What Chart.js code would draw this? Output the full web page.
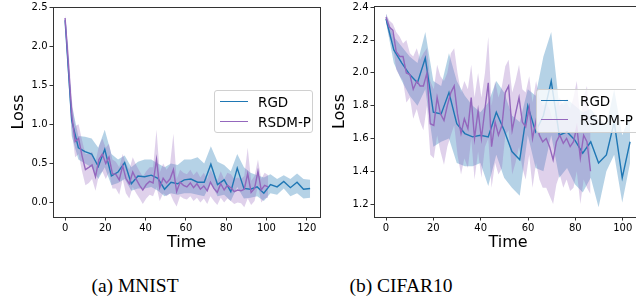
<!DOCTYPE html>
<html>
<head>
<meta charset="utf-8">
<script src="https://cdn.jsdelivr.net/npm/chart.js@4.4.1/dist/chart.umd.min.js"></script>
<style>
  body { margin: 0; width: 636px; height: 303px; overflow: hidden; background: #fff; position: relative; }
  canvas { position: absolute; top: 0; }
  .legend { position: absolute; border: 1px solid #d0d0d0; border-radius: 3px; background: rgba(255,255,255,0.8);
            font-family: "DejaVu Sans", sans-serif; font-size: 13.5px; color: #000; box-sizing: border-box; }
  .legend .sw { position: absolute; height: 0; border-top: 1.5px solid; }
  .legend .lb { position: absolute; line-height: 16px; white-space: nowrap; }
  .cap { position: absolute; font-family: "Liberation Serif", "Times New Roman", serif; font-size: 19.5px;
         line-height: 20px; top: 276px; white-space: nowrap; transform: translateX(-50%); }
</style>
</head>
<body>
<canvas id="mnist" width="326" height="255" style="left:0"></canvas>
<canvas id="cifar" width="334" height="255" style="left:318px"></canvas>

<div class="legend" style="left:214px; top:90px; width:99px; height:43px">
  <div class="sw" style="left:5px; top:10px; width:28px; border-color:#1f77b4"></div>
  <div class="lb" style="left:43px; top:3px">RGD</div>
  <div class="sw" style="left:5px; top:30px; width:28px; border-color:#9467bd"></div>
  <div class="lb" style="left:43px; top:23px">RSDM-P</div>
</div>
<div class="legend" style="left:536px; top:89px; width:120px; height:44px">
  <div class="sw" style="left:4px; top:10px; width:27px; border-color:#1f77b4"></div>
  <div class="lb" style="left:43px; top:3px">RGD</div>
  <div class="sw" style="left:4px; top:29px; width:27px; border-color:#9467bd"></div>
  <div class="lb" style="left:43px; top:22px">RSDM-P</div>
</div>

<div class="cap" style="left:135px">(a) MNIST</div>
<div class="cap" style="left:401px">(b) CIFAR10</div>

<script>
// ---- MNIST ----
const mnistRgdTime = [0, 3.3, 6.6, 9.9, 13.2, 16.5, 19.7, 23.0, 26.3, 29.6, 32.9, 36.2, 39.5, 42.8, 46.1, 49.4, 52.6, 55.9, 59.2,
  62.5, 65.8, 69.1, 72.4, 75.7, 79.0, 82.3, 85.5, 88.8, 92.1, 95.4, 98.7, 102.0, 105.3, 108.6, 111.9, 115.2, 118.4, 121.7];
const mnistRgd = [2.33, 1.05, 0.70, 0.65, 0.62, 0.46, 0.68, 0.34, 0.39, 0.51, 0.24, 0.34, 0.33, 0.35, 0.31, 0.17, 0.26, 0.24, 0.29,
  0.30, 0.26, 0.26, 0.49, 0.23, 0.29, 0.14, 0.44, 0.18, 0.17, 0.20, 0.12, 0.23, 0.20, 0.27, 0.19, 0.26, 0.17, 0.18];
const mnistRgdHi = [2.38, 1.25, 0.85, 0.84, 0.82, 0.70, 0.93, 0.62, 0.55, 0.60, 0.45, 0.52, 0.55, 0.55, 0.50, 0.45, 0.50, 0.48, 0.55,
  0.55, 0.58, 0.50, 0.72, 0.52, 0.48, 0.40, 0.62, 0.45, 0.38, 0.35, 0.32, 0.36, 0.30, 0.35, 0.30, 0.37, 0.30, 0.29];
const mnistRgdLo = [2.28, 0.85, 0.55, 0.50, 0.45, 0.30, 0.45, 0.22, 0.25, 0.30, 0.15, 0.18, 0.18, 0.20, 0.15, 0.08, 0.12, 0.10, 0.12,
  0.12, 0.10, 0.08, 0.25, 0.08, 0.10, 0.02, 0.20, 0.05, 0.06, 0.08, 0.02, 0.12, 0.10, 0.18, 0.08, 0.12, 0.05, 0.06];

const mnistRsdmTime = [0, 1.7, 3.4, 5.0, 6.7, 8.4, 10.1, 11.8, 13.4, 15.1, 16.8, 18.5, 20.2, 21.8, 23.5, 25.2, 26.9, 28.6, 30.2, 31.9,
  33.6, 35.3, 37.0, 38.6, 40.3, 42.0, 43.7, 45.4, 47.0, 48.7, 50.4, 52.1, 53.8, 55.4, 57.1, 58.8, 60.5, 62.2, 63.8, 65.5,
  67.2, 68.9, 70.6, 72.2, 73.9, 75.6, 77.3, 79.0, 80.6, 82.3, 84.0, 85.7, 87.4, 89.0, 90.7, 92.4, 94.1, 95.8, 97.4, 99.1, 100.8];
const mnistRsdm = [2.36, 1.75, 1.10, 0.78, 0.82, 0.60, 0.42, 0.45, 0.48, 0.33, 0.55, 0.62, 0.50, 0.58, 0.37, 0.36, 0.29, 0.47, 0.31, 0.24,
  0.39, 0.30, 0.22, 0.16, 0.23, 0.27, 0.25, 0.55, 0.19, 0.31, 0.25, 0.30, 0.42, 0.14, 0.26, 0.22, 0.20, 0.25, 0.19, 0.24,
  0.17, 0.21, 0.15, 0.26, 0.18, 0.13, 0.24, 0.16, 0.22, 0.19, 0.14, 0.16, 0.15, 0.17, 0.37, 0.13, 0.18, 0.40, 0.16, 0.22, 0.20];
const mnistRsdmHi = [2.40, 1.95, 1.30, 0.98, 1.00, 0.80, 0.62, 0.62, 0.65, 0.52, 0.72, 0.82, 0.70, 0.75, 0.55, 0.52, 0.45, 0.62, 0.50, 0.42,
  0.58, 0.48, 0.40, 0.33, 0.40, 0.45, 0.45, 0.93, 0.38, 0.50, 0.42, 0.48, 0.88, 0.30, 0.42, 0.38, 0.36, 0.42, 0.35, 0.40,
  0.32, 0.38, 0.30, 0.42, 0.34, 0.28, 0.40, 0.30, 0.38, 0.36, 0.30, 0.32, 0.30, 0.34, 0.70, 0.28, 0.34, 0.55, 0.30, 0.38, 0.35];
const mnistRsdmLo = [2.30, 1.55, 0.90, 0.58, 0.62, 0.40, 0.22, 0.25, 0.30, 0.15, 0.35, 0.40, 0.30, 0.38, 0.18, 0.18, 0.10, 0.30, 0.12, 0.05,
  0.20, 0.12, 0.05, -0.02, 0.05, 0.10, 0.08, 0.20, 0.02, 0.12, 0.08, 0.12, 0.02, -0.05, 0.08, 0.05, 0.04, 0.08, 0.02, 0.06,
  0.00, 0.05, -0.02, 0.08, 0.02, -0.03, 0.06, 0.00, 0.05, 0.02, -0.02, 0.00, -0.01, -0.06, 0.05, -0.03, 0.02, 0.22, 0.00, 0.05, 0.06];

// ---- CIFAR10 ----
const cifarRgdTime = [0, 3.3, 6.7, 10.0, 13.3, 16.6, 20.0, 23.3, 26.6, 29.9, 33.3, 36.6, 39.9, 43.2, 46.6, 49.9,
  53.2, 56.5, 59.9, 63.2, 66.5, 69.8, 73.2, 76.5, 79.8, 83.1, 86.5, 89.8, 93.1, 96.4, 99.8, 103.1];
const cifarRgd = [2.33, 2.14, 2.06, 1.99, 1.94, 2.09, 1.76, 1.75, 1.88, 1.69, 1.63, 1.61, 1.62, 1.61, 1.76, 1.65,
  1.52, 1.47, 1.80, 1.64, 1.74, 1.95, 1.62, 1.64, 1.59, 1.51, 1.58, 1.45, 1.50, 1.70, 1.36, 1.58];
const cifarRgdHi = [2.36, 2.22, 2.16, 2.10, 2.06, 2.25, 1.95, 1.92, 2.12, 1.95, 1.86, 1.80, 1.76, 1.82, 1.95, 1.88,
  1.74, 1.70, 1.90, 1.86, 2.10, 2.25, 1.80, 1.84, 1.80, 1.76, 1.78, 1.72, 1.68, 1.90, 1.62, 1.75];
const cifarRgdLo = [2.31, 2.06, 1.95, 1.86, 1.80, 1.90, 1.55, 1.58, 1.60, 1.45, 1.43, 1.43, 1.45, 1.31, 1.50, 1.36,
  1.30, 1.25, 1.62, 1.42, 1.40, 1.62, 1.36, 1.42, 1.32, 1.27, 1.36, 1.18, 1.40, 1.50, 1.21, 1.45];

const cifarRsdmTime = [0, 1.4, 2.9, 4.3, 5.8, 7.2, 8.6, 10.1, 11.5, 13.0, 14.4, 15.8, 17.3, 18.7, 20.2, 21.6, 23.0, 24.5, 25.9, 27.4,
  28.8, 30.2, 31.7, 33.1, 34.6, 36.0, 37.4, 38.9, 40.3, 41.8, 43.2, 44.6, 46.1, 47.5, 49.0, 50.4, 51.8, 53.3, 54.7, 56.2,
  57.6, 59.0, 60.5, 61.9, 63.4, 64.8, 66.2, 67.7, 69.1, 70.6, 72.0, 73.4, 74.9, 76.3, 77.8, 79.2, 80.6, 82.1, 83.5, 84.9, 86.4];
const cifarRsdm = [2.34, 2.28, 2.26, 2.13, 2.10, 2.10, 2.00, 1.99, 1.90, 1.95, 1.92, 1.92, 2.00, 1.69, 1.68, 1.85, 1.75, 1.71, 1.80, 1.88,
  1.92, 1.75, 1.63, 1.72, 1.66, 1.85, 1.60, 1.77, 1.60, 1.78, 1.94, 1.55, 1.70, 1.62, 1.68, 1.88, 1.92, 1.65, 1.75, 1.85,
  1.70, 1.67, 1.79, 1.60, 1.71, 1.62, 1.58, 1.60, 1.55, 1.47, 1.58, 1.62, 1.57, 1.60, 1.55, 1.58, 1.67, 1.48, 1.62, 1.58, 1.40];
const cifarRsdmHi = [2.36, 2.32, 2.30, 2.25, 2.22, 2.18, 2.20, 2.12, 2.10, 2.15, 2.08, 2.12, 2.15, 1.95, 1.90, 2.05, 1.98, 1.95, 2.00, 2.12,
  2.15, 2.00, 1.88, 1.95, 1.90, 2.05, 1.85, 2.00, 1.85, 2.00, 2.22, 1.80, 1.95, 1.85, 1.92, 2.04, 2.08, 1.88, 1.95, 2.05,
  1.90, 1.88, 1.98, 1.82, 1.95, 1.85, 1.80, 1.82, 1.78, 1.70, 1.80, 1.85, 1.80, 1.82, 1.78, 1.85, 1.95, 1.72, 1.85, 1.92, 1.65];
const cifarRsdmLo = [2.31, 2.22, 2.18, 2.02, 1.98, 1.95, 1.82, 1.85, 1.72, 1.78, 1.70, 1.65, 1.80, 1.50, 1.48, 1.62, 1.52, 1.44, 1.55, 1.62,
  1.68, 1.50, 1.38, 1.48, 1.42, 1.60, 1.35, 1.52, 1.36, 1.55, 1.60, 1.30, 1.45, 1.38, 1.42, 1.62, 1.65, 1.38, 1.45, 1.55,
  1.42, 1.35, 1.50, 1.30, 1.45, 1.35, 1.30, 1.30, 1.25, 1.20, 1.32, 1.38, 1.30, 1.35, 1.28, 1.30, 1.40, 1.20, 1.35, 1.30, 1.26];

// tick labels
const mnistXTicks = [0, 20, 40, 60, 80, 100, 120];
const mnistYTicks = [0.0, 0.5, 1.0, 1.5, 2.0, 2.5];
const cifarXTicks = [0, 20, 40, 60, 80, 100];
const cifarYTicks = [1.2, 1.4, 1.6, 1.8, 2.0, 2.2, 2.4];

const BLUE = '#1f77b4', PURPLE = '#9467bd';
const BLUE_BAND = 'rgba(31,119,180,0.33)', PURPLE_BAND = 'rgba(148,103,189,0.3)';

const pts = (xs, ys) => xs.map((x, i) => ({ x: x, y: ys[i] }));

// draws the full axes box (matplotlib style spines)
const boxPlugin = {
  id: 'box',
  afterDraw(chart) {
    const a = chart.chartArea, ctx = chart.ctx;
    ctx.save();
    ctx.strokeStyle = '#333';
    ctx.lineWidth = 1;
    ctx.strokeRect(Math.round(a.left) + 0.5, Math.round(a.top) + 0.5,
      Math.round(a.right - a.left), Math.round(a.bottom - a.top));
    ctx.restore();
  }
};

function makeChart(id, o) {
  const band = (t, hi, lo, col, order) => [
    { data: pts(t, hi), borderWidth: 0, pointRadius: 0, backgroundColor: col, fill: '+1', order: order },
    { data: pts(t, lo), borderWidth: 0, pointRadius: 0, fill: false, order: order }
  ];
  return new Chart(document.getElementById(id), {
    type: 'line',
    data: {
      datasets: [
        ...band(o.t1, o.hi1, o.lo1, BLUE_BAND, 3),
        ...band(o.t2, o.hi2, o.lo2, PURPLE_BAND, 2),
        { label: 'RGD', data: pts(o.t1, o.y1), borderColor: BLUE, borderWidth: 1.4, pointRadius: 0, fill: false, tension: 0, order: 1 },
        { label: 'RSDM-P', data: pts(o.t2, o.y2), borderColor: PURPLE, borderWidth: 1.4, pointRadius: 0, fill: false, tension: 0, order: 0 }
      ]
    },
    options: {
      responsive: false,
      animation: false,
      devicePixelRatio: 1,
      layout: { padding: { top: o.padTop, right: o.padRight, left: 0, bottom: 0 } },
      plugins: { legend: { display: false }, tooltip: { enabled: false } },
      scales: {
        x: {
          type: 'linear', min: o.xmin, max: o.xmax,
          grid: { display: true, drawOnChartArea: false, drawTicks: true, tickLength: 3.5, tickColor: '#000', tickWidth: 0.8 },
          border: { display: false },
          ticks: { autoSkip: false, maxRotation: 0, padding: 2, color: '#000', font: { family: 'DejaVu Sans', size: 10 } },
          title: { display: true, text: 'Time', color: '#000', font: { family: 'DejaVu Sans', size: 16 }, padding: { top: 0, bottom: 3 } },
          afterBuildTicks: s => { s.ticks = o.xticks.map(v => ({ value: v })); },
          afterFit: s => { s.height = o.xHeight; s.paddingLeft = 0; s.paddingRight = 0; }
        },
        y: {
          type: 'linear', min: o.ymin, max: o.ymax,
          grid: { display: true, drawOnChartArea: false, drawTicks: true, tickLength: 3.5, tickColor: '#000', tickWidth: 0.8 },
          border: { display: false },
          ticks: { padding: 2, color: '#000', font: { family: 'DejaVu Sans', size: 10 }, callback: v => v.toFixed(1) },
          title: { display: true, text: 'Loss', color: '#000', font: { family: 'DejaVu Sans', size: 16 }, padding: { top: o.yTitlePad, bottom: 0 } },
          afterBuildTicks: s => { s.ticks = o.yticks.map(v => ({ value: v })); },
          afterFit: s => { s.width = o.yWidth; s.paddingTop = 0; s.paddingBottom = 0; }
        }
      }
    },
    plugins: [boxPlugin]
  });
}

makeChart('mnist', {
  t1: mnistRgdTime, y1: mnistRgd, hi1: mnistRgdHi, lo1: mnistRgdLo,
  t2: mnistRsdmTime, y2: mnistRsdm, hi2: mnistRsdmHi, lo2: mnistRsdmLo,
  xticks: mnistXTicks, yticks: mnistYTicks,
  xmin: -6, xmax: 126.6, ymin: -0.185, ymax: 2.5,
  padTop: 7, padRight: 6, yWidth: 53, xHeight: 38, yTitlePad: 9
});

makeChart('cifar', {
  t1: cifarRgdTime, y1: cifarRgd, hi1: cifarRgdHi, lo1: cifarRgdLo,
  t2: cifarRsdmTime, y2: cifarRsdm, hi2: cifarRsdmHi, lo2: cifarRsdmLo,
  xticks: cifarXTicks, yticks: cifarYTicks,
  xmin: -5.07, xmax: 108.15, ymin: 1.121, ymax: 2.408,
  padTop: 6, padRight: 10, yWidth: 56, xHeight: 38, yTitlePad: 12.4
});
</script>
</body>
</html>
